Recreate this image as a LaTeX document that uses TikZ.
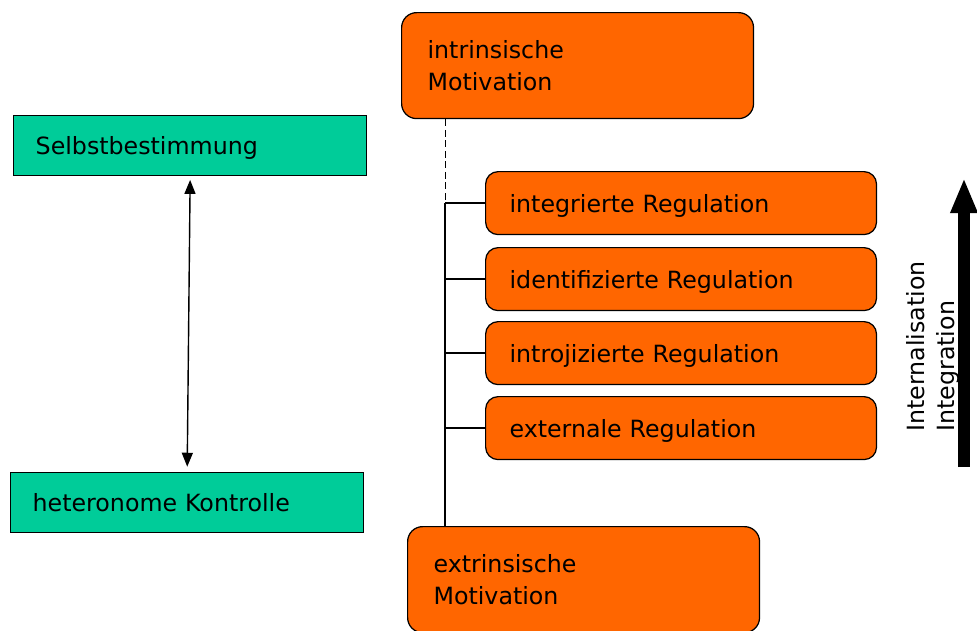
\documentclass[tikz,border=0pt]{standalone}
\usepackage{fontspec}
\setmainfont{DejaVu Sans}
\usetikzlibrary{arrows.meta}
\definecolor{boxorange}{RGB}{255,102,0}
\definecolor{boxgreen}{RGB}{0,204,153}
\tikzset{
	motbox/.style={draw=black, fill=boxorange, rounded corners=0.3cm, line width=0.7pt, anchor=north west,
		minimum width=7.04cm, minimum height=2.12cm, text width=6cm, align=left, inner xsep=0.52cm,
		font=\fontsize{13.5}{18.7}\selectfont},
	regbox/.style={draw=black, fill=boxorange, rounded corners=0.25cm, line width=0.7pt, anchor=north west,
		minimum width=7.82cm, minimum height=1.26cm, text width=6.86cm, align=left, inner xsep=0.48cm,
		text height=13.7pt, text depth=3.2pt, font=\fontsize{13.5}{16}\selectfont},
	polbox/.style={draw=black, fill=boxgreen, line width=0.8pt, anchor=north west,
		minimum width=7.06cm, minimum height=1.2cm, text width=6.18cm, align=left, inner xsep=0.44cm,
		text height=13.7pt, text depth=3.2pt, font=\fontsize{13.5}{16}\selectfont},
	sidetext/.style={rotate=90, anchor=base west, inner sep=0pt, font=\fontsize{13.5}{16}\selectfont}
}
\begin{document}
\begin{tikzpicture}[x=0.02cm, y=-0.02cm]
			%%%%% START %%%%%
			\useasboundingbox (0, 0) rectangle (977, 630);
			
			\node[motbox] (intr) at (401, 12) {intrinsische\\Motivation};
			\node[motbox] (extr) at (407, 526) {extrinsische\\Motivation};
			
			\node[regbox] (integ) at (485, 171) {integrierte Regulation};
			\node[regbox] (ident) at (485, 247) {identifizierte Regulation};
			\node[regbox] (introj) at (485, 321) {introjizierte Regulation};
			\node[regbox] (extern) at (485, 396) {externale Regulation};
			
			\node[polbox] (selbst) at (13, 115) {Selbstbestimmung};
			\node[polbox] (hetero) at (10, 472) {heteronome Kontrolle};
			
			% Baum links der Regulationen
			\coordinate (trunk) at (445, 203);
			\draw[dashed, dash pattern=on 4pt off 2pt, line width=0.5pt] (intr.south -| trunk) -- (trunk);
			\draw[line width=0.8pt] (trunk) -- (extr.north -| trunk);
			\draw[line width=0.8pt] (integ.west) -- (integ.west -| trunk);
			\draw[line width=0.8pt] (ident.west) -- (ident.west -| trunk);
			\draw[line width=0.8pt] (introj.west) -- (introj.west -| trunk);
			\draw[line width=0.8pt] (extern.west) -- (extern.west -| trunk);
			
			% Doppelpfeil
			\draw[line width=0.8pt, {Triangle[length=0.28cm,width=0.22cm]}-{Triangle[length=0.28cm,width=0.22cm]},
				shorten <=2pt, shorten >=3pt] (selbst.south) -- (hetero.north);
			
			% grosser Pfeil rechts
			\coordinate (arrlow) at (964, 467);
			\coordinate (arrtop) at (964, 178);
			\draw[line width=0.24cm, -{Triangle[length=0.7cm,width=0.5cm]}] (arrlow) -- (arrtop);
			
			\node[sidetext] (internal) at (924, 432) {Internalisation};
			\node[sidetext] (integr) at (954, 432) {Integration};
			
			%%%%% END %%%%%
\end{tikzpicture}
\end{document}
